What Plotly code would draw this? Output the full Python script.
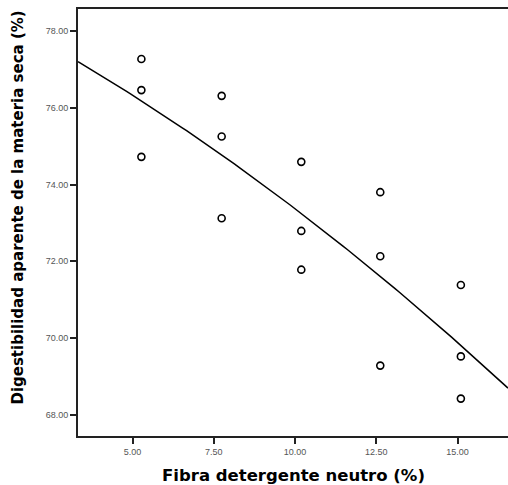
import numpy as np
import plotly.graph_objects as go

# Data
fdn = [5.27, 5.27, 5.27, 7.74, 7.74, 7.74, 10.19, 10.19, 10.19,
       12.62, 12.62, 12.62, 15.10, 15.10, 15.10]
digest = [77.27, 76.46, 74.72, 76.31, 75.25, 73.12, 74.59, 72.79, 71.78,
          73.80, 72.13, 69.28, 71.38, 69.52, 68.42]

x_ticks = [5.0, 7.5, 10.0, 12.5, 15.0]
x_tick_labels = ["5.00", "7.50", "10.00", "12.50", "15.00"]
y_ticks = [68, 70, 72, 74, 76, 78]
y_tick_labels = ["68.00", "70.00", "72.00", "74.00", "76.00", "78.00"]

x_range = [3.32, 16.55]
y_range = [67.445, 78.574]

# Quadratic regression fit of the data (as drawn in the reference)
coef = np.polyfit(fdn, digest, 2)
fit_x = np.linspace(x_range[0], x_range[1], 100)
fit_y = np.polyval(coef, fit_x)

fig = go.Figure()
fig.add_trace(go.Scatter(x=fit_x, y=fit_y, mode="lines",
                         line=dict(color="black", width=1.5),
                         hoverinfo="skip", showlegend=False))
fig.add_trace(go.Scatter(x=fdn, y=digest, mode="markers",
                         marker=dict(symbol="circle-open", size=7,
                                     color="black", line=dict(width=1.6)),
                         showlegend=False))

fig.update_layout(
    width=508, height=485,
    margin=dict(l=78, r=0, t=9, b=49),
    paper_bgcolor="white", plot_bgcolor="white",
    showlegend=False,
    xaxis=dict(range=x_range, tickvals=x_ticks, ticktext=x_tick_labels,
               showgrid=False, zeroline=False,
               showline=True, linecolor="#222", linewidth=2, mirror=True,
               ticks="outside", ticklen=6, tickwidth=2, tickcolor="#222",
               tickfont=dict(family="Liberation Sans", size=9, color="#555")),
    yaxis=dict(range=y_range, tickvals=y_ticks, ticktext=y_tick_labels,
               showgrid=False, zeroline=False,
               showline=True, linecolor="#222", linewidth=2, mirror=False,
               ticks="outside", ticklen=6, tickwidth=2, tickcolor="#222",
               tickfont=dict(family="Liberation Sans", size=9, color="#555")),
    annotations=[
        dict(text="<b>Fibra detergente neutro (%)</b>", xref="paper", yref="paper",
             x=0.5, y=-0.093, xanchor="center", yanchor="middle", showarrow=False,
             font=dict(family="DejaVu Sans", size=16.5, color="black")),
        dict(text="<b>Digestibilidad aparente de la materia seca (%)</b>",
             xref="paper", yref="paper", x=-0.1395, y=0.535, textangle=-90,
             xanchor="center", yanchor="middle", showarrow=False,
             font=dict(family="DejaVu Sans", size=15, color="black")),
    ],
)

fig.write_html("out.html", config={"displayModeBar": False},
               post_script="document.body.style.margin='0';"
                           "document.body.style.overflow='hidden';")
